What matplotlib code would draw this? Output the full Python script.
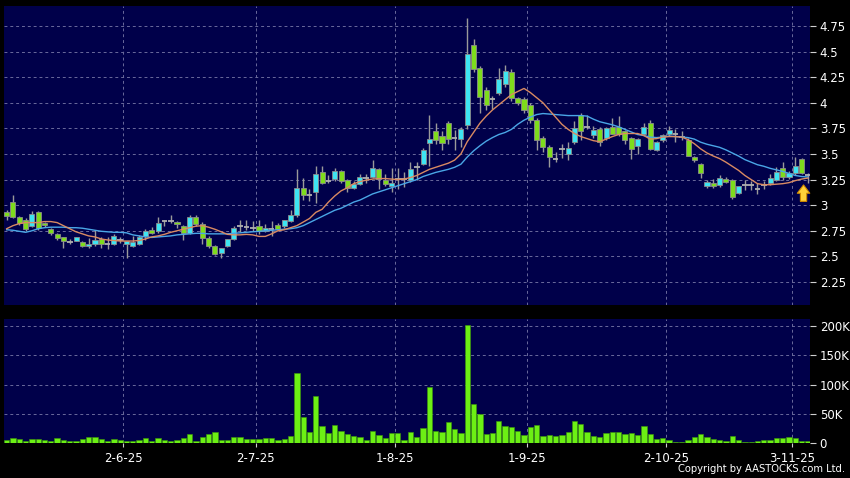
import matplotlib

matplotlib.use("Agg")
import matplotlib.pyplot as plt
from matplotlib.ticker import FuncFormatter

# daily OHLC, one entry per trading day (6 May 2025 .. 5 Nov 2025)
OPENS = [
    2.93, 3.03, 2.88, 2.86, 2.80, 2.93, 2.83, 2.77, 2.72, 2.69,
    2.64, 2.65, 2.64, 2.60, 2.62, 2.67, 2.62, 2.62, 2.66, 2.62,
    2.60, 2.62, 2.70, 2.76, 2.75, 2.845, 2.85, 2.84, 2.80, 2.73,
    2.88, 2.82, 2.68, 2.60, 2.53, 2.60, 2.67, 2.80, 2.79, 2.78,
    2.80, 2.75, 2.77, 2.81, 2.80, 2.85, 2.90, 3.17, 3.10, 3.13,
    3.32, 3.24, 3.26, 3.33, 3.25, 3.17, 3.21, 3.27, 3.28, 3.35,
    3.25, 3.19, 3.26, 3.26, 3.25, 3.37, 3.40, 3.61, 3.72, 3.68,
    3.80, 3.66, 3.65, 3.78, 4.56, 4.34, 4.12, 4.04, 4.10, 4.18,
    4.30, 4.05, 4.04, 3.98, 3.83, 3.66, 3.57, 3.45, 3.55, 3.50,
    3.62, 3.88, 3.76, 3.69, 3.74, 3.66, 3.76, 3.76, 3.72, 3.66,
    3.58, 3.70, 3.80, 3.54, 3.64, 3.70, 3.70, 3.67, 3.64, 3.47,
    3.40, 3.19, 3.22, 3.20, 3.26, 3.25, 3.12, 3.20, 3.20, 3.16,
    3.20, 3.22, 3.25, 3.36, 3.28, 3.31, 3.45, 3.29,
]
HIGHS = [
    2.95, 3.10, 2.89, 2.87, 2.94, 2.94, 2.84, 2.78, 2.73, 2.69,
    2.67, 2.69, 2.65, 2.68, 2.76, 2.69, 2.69, 2.72, 2.69, 2.65,
    2.70, 2.71, 2.77, 2.79, 2.88, 2.86, 2.90, 2.85, 2.81, 2.90,
    2.90, 2.84, 2.70, 2.61, 2.58, 2.67, 2.80, 2.86, 2.86, 2.85,
    2.86, 2.82, 2.85, 2.83, 2.86, 2.95, 3.35, 3.27, 3.16, 3.38,
    3.38, 3.29, 3.36, 3.34, 3.26, 3.24, 3.30, 3.30, 3.44, 3.36,
    3.30, 3.36, 3.36, 3.32, 3.42, 3.42, 3.56, 3.88, 3.80, 3.72,
    3.82, 3.73, 3.76, 4.83, 4.62, 4.36, 4.15, 4.07, 4.34, 4.37,
    4.33, 4.06, 4.06, 4.00, 3.85, 3.68, 3.59, 3.52, 3.60, 3.62,
    3.82, 3.90, 3.88, 3.77, 3.76, 3.76, 3.85, 3.87, 3.73, 3.67,
    3.66, 3.80, 3.83, 3.63, 3.70, 3.77, 3.74, 3.72, 3.66, 3.48,
    3.41, 3.25, 3.26, 3.29, 3.28, 3.26, 3.19, 3.25, 3.24, 3.22,
    3.24, 3.30, 3.37, 3.42, 3.33, 3.47, 3.46, 3.31,
]
LOWS = [
    2.86, 2.87, 2.81, 2.75, 2.79, 2.76, 2.79, 2.71, 2.66, 2.58,
    2.62, 2.65, 2.59, 2.58, 2.60, 2.58, 2.57, 2.61, 2.63, 2.48,
    2.59, 2.61, 2.66, 2.72, 2.73, 2.80, 2.83, 2.78, 2.66, 2.72,
    2.80, 2.62, 2.58, 2.51, 2.48, 2.59, 2.66, 2.74, 2.76, 2.75,
    2.72, 2.74, 2.70, 2.76, 2.78, 2.84, 2.88, 3.05, 3.04, 3.02,
    3.21, 3.22, 3.24, 3.22, 3.13, 3.16, 3.20, 3.22, 3.27, 3.16,
    3.19, 3.13, 3.16, 3.18, 3.23, 3.25, 3.39, 3.38, 3.60, 3.54,
    3.60, 3.54, 3.57, 3.74, 4.30, 3.90, 3.93, 3.94, 4.08, 4.15,
    4.02, 3.98, 3.90, 3.80, 3.54, 3.52, 3.37, 3.42, 3.46, 3.44,
    3.60, 3.64, 3.74, 3.66, 3.58, 3.64, 3.70, 3.68, 3.60, 3.45,
    3.50, 3.69, 3.54, 3.53, 3.62, 3.68, 3.62, 3.64, 3.48, 3.42,
    3.27, 3.17, 3.17, 3.18, 3.22, 3.06, 3.11, 3.15, 3.15, 3.11,
    3.16, 3.20, 3.24, 3.25, 3.26, 3.29, 3.30, 3.22,
]
CLOSES = [
    2.89, 2.88, 2.83, 2.77, 2.91, 2.78, 2.81, 2.73, 2.68, 2.65,
    2.64, 2.69, 2.60, 2.62, 2.66, 2.62, 2.62, 2.70, 2.66, 2.65,
    2.64, 2.69, 2.75, 2.73, 2.83, 2.845, 2.85, 2.82, 2.73, 2.88,
    2.82, 2.68, 2.60, 2.52, 2.58, 2.67, 2.78, 2.80, 2.79, 2.78,
    2.75, 2.78, 2.77, 2.77, 2.86, 2.90, 3.17, 3.10, 3.10, 3.30,
    3.22, 3.24, 3.33, 3.24, 3.17, 3.21, 3.28, 3.27, 3.36, 3.26,
    3.21, 3.22, 3.26, 3.26, 3.35, 3.37, 3.54, 3.65, 3.64, 3.61,
    3.65, 3.66, 3.74, 4.48, 4.33, 4.06, 3.98, 4.04, 4.23, 4.31,
    4.05, 4.00, 3.93, 3.83, 3.64, 3.57, 3.47, 3.45, 3.55, 3.56,
    3.75, 3.72, 3.76, 3.73, 3.62, 3.75, 3.70, 3.70, 3.64, 3.55,
    3.65, 3.76, 3.55, 3.62, 3.69, 3.73, 3.70, 3.67, 3.48, 3.44,
    3.31, 3.23, 3.19, 3.27, 3.23, 3.08, 3.19, 3.20, 3.20, 3.16,
    3.20, 3.27, 3.32, 3.28, 3.31, 3.38, 3.31, 3.29,
]
# daily volume, thousands of shares
VOLUMES_K = [
    5.7, 9, 7.4, 4, 7.4, 7.4, 5, 4, 9, 5.7,
    4.5, 4.5, 7.4, 11.4, 10.2, 8, 4.5, 7.4, 5, 4,
    4, 5.7, 9, 3.4, 9, 5.7, 4, 6.2, 9, 16,
    4, 10.8, 16, 18.7, 5.7, 5.7, 10.2, 10.2, 6.8, 6.8,
    6.8, 8.5, 8.5, 6.2, 8, 13, 119, 44, 20, 81,
    30, 17.6, 31, 21, 15.3, 13, 10.8, 6.2, 20.4, 14.8,
    9.7, 17.6, 18, 6.2, 19.3, 11.4, 25.6, 96.6, 21.6, 18.7,
    37, 23.9, 17, 201.6, 67, 49.4, 16, 17, 38, 29.5,
    28.4, 20.4, 13.6, 27.8, 31, 13, 14.2, 12.5, 13.6, 18.7,
    37.5, 32.4, 19.3, 12.5, 10.8, 17.6, 19.3, 20, 16, 17.6,
    14.2, 29, 15.3, 8, 8.5, 5, 2.3, 2.3, 6.2, 11.4,
    16, 10.8, 8, 5, 4, 12.5, 5.7, 2.8, 2.8, 3.4,
    6.2, 5, 9.7, 9, 10.2, 9.7, 3.4, 3.4,
]
# moving averages as drawn on the chart
MA10 = [
    2.77, 2.80, 2.82, 2.83, 2.83, 2.83, 2.84, 2.84, 2.83, 2.80,
    2.77, 2.74, 2.72, 2.70, 2.69, 2.67, 2.66, 2.655, 2.65, 2.65,
    2.65, 2.655, 2.67, 2.69, 2.70, 2.715, 2.735, 2.75, 2.765, 2.78,
    2.795, 2.80, 2.785, 2.765, 2.74, 2.715, 2.71, 2.71, 2.715, 2.71,
    2.695, 2.695, 2.72, 2.75, 2.76, 2.78, 2.80, 2.835, 2.87, 2.93,
    2.96, 3.03, 3.09, 3.14, 3.17, 3.21, 3.23, 3.245, 3.255, 3.26,
    3.26, 3.255, 3.25, 3.255, 3.27, 3.29, 3.32, 3.35, 3.37, 3.39,
    3.41, 3.44, 3.50, 3.62, 3.71, 3.80, 3.87, 3.93, 3.98, 4.03,
    4.08, 4.11, 4.14, 4.10, 4.05, 4.00, 3.93, 3.86, 3.79, 3.74,
    3.70, 3.67, 3.65, 3.63, 3.62, 3.645, 3.67, 3.69, 3.70, 3.70,
    3.70, 3.68, 3.645, 3.65, 3.665, 3.67, 3.67, 3.665, 3.64, 3.60,
    3.55, 3.51, 3.48, 3.455, 3.42, 3.38, 3.34, 3.29, 3.25, 3.21,
    3.20, 3.20, 3.205, 3.21, 3.22, 3.24, 3.255, 3.265,
]
MA20 = [
    2.76, 2.755, 2.745, 2.735, 2.75, 2.77, 2.78, 2.785, 2.785, 2.785,
    2.78, 2.78, 2.775, 2.765, 2.755, 2.745, 2.74, 2.735, 2.735, 2.73,
    2.71, 2.70, 2.69, 2.685, 2.69, 2.695, 2.70, 2.71, 2.715, 2.72,
    2.725, 2.725, 2.72, 2.72, 2.72, 2.72, 2.725, 2.73, 2.735, 2.74,
    2.745, 2.75, 2.755, 2.76, 2.765, 2.77, 2.78, 2.80, 2.83, 2.86,
    2.89, 2.92, 2.95, 2.97, 3.00, 3.03, 3.05, 3.08, 3.11, 3.13,
    3.15, 3.17, 3.19, 3.21, 3.23, 3.25, 3.28, 3.30, 3.32, 3.335,
    3.35, 3.37, 3.40, 3.47, 3.53, 3.58, 3.625, 3.66, 3.69, 3.71,
    3.74, 3.79, 3.83, 3.86, 3.885, 3.895, 3.89, 3.885, 3.88, 3.875,
    3.875, 3.875, 3.87, 3.84, 3.815, 3.80, 3.785, 3.765, 3.74, 3.715,
    3.69, 3.68, 3.665, 3.66, 3.665, 3.675, 3.67, 3.665, 3.66, 3.645,
    3.615, 3.595, 3.58, 3.565, 3.54, 3.51, 3.48, 3.445, 3.42, 3.395,
    3.38, 3.36, 3.345, 3.33, 3.31, 3.29, 3.28, 3.275,
]
# month-start trading days (index into the lists above) and their labels
TICK_DAYS = [19, 40, 62, 83, 105, 125]
TICK_LABELS = ["2-6-25", "2-7-25", "1-8-25", "1-9-25", "2-10-25", "3-11-25"]
PRICE_TICKS = [2.25, 2.5, 2.75, 3.0, 3.25, 3.5, 3.75, 4.0, 4.25, 4.5, 4.75]
VOLUME_TICKS_K = [0, 50, 100, 150, 200]

BG = "#000000"
PANEL = "#00004a"
GRID = "#6a6a9c"
UP = "#3ee4f2"
DOWN = "#7edc1c"
WICK = "#9a9a9a"
VOL = "#6cf014"


def style_panel(ax):
    ax.set_facecolor(PANEL)
    for side in ax.spines.values():
        side.set_visible(False)
    ax.grid(True, color=GRID, linestyle=(0, (3, 3)), linewidth=0.7)
    ax.set_axisbelow(True)
    ax.yaxis.tick_right()
    ax.tick_params(axis="y", colors="#cfcfcf", labelcolor="white", labelsize=8.5,
                   length=4, width=0.8, pad=3)
    ax.set_xticks([d - 0.5 for d in TICK_DAYS])
    ax.set_xlim(-0.42, 127.32)


def main():
    x = list(range(len(CLOSES)))
    fig = plt.figure(figsize=(8.5, 4.78), dpi=100, facecolor=BG)
    ax = fig.add_axes([0.0047, 0.3619, 0.9482, 0.6255])
    axv = fig.add_axes([0.0047, 0.0726, 0.9482, 0.2594])

    style_panel(ax)
    ax.set_ylim(2.025, 4.945)
    ax.set_yticks(PRICE_TICKS)
    ax.yaxis.set_major_formatter(FuncFormatter(lambda v, p: f"{v:g}"))
    ax.tick_params(axis="x", length=0, labelbottom=False)

    # wicks
    ax.vlines(x, LOWS, HIGHS, color=WICK, linewidth=1, zorder=2)
    # bodies
    for i in x:
        o, c = OPENS[i], CLOSES[i]
        if c == o:
            ax.hlines(c, i - 0.45, i + 0.45, color="#b0b0b0", linewidth=1.3, zorder=3)
        else:
            ax.bar(i, c - o, bottom=o, width=0.8, color=UP if c > o else DOWN,
                   edgecolor="#8c8c8c", linewidth=0.6, zorder=3)

    ax.plot(x, MA20, color="#4aa6e6", linewidth=1.0, zorder=4)
    ax.plot(x, MA10, color="#d98a62", linewidth=1.0, zorder=4)

    # yellow marker arrow under the latest candles
    ax.annotate("", xy=(126.3, 3.225), xytext=(126.3, 3.01),
                arrowprops=dict(arrowstyle="simple,head_length=0.6,head_width=0.9,tail_width=0.45",
                                facecolor="#ffd23a", edgecolor="#d08a00", linewidth=0.8),
                zorder=5)

    style_panel(axv)
    axv.bar(x, VOLUMES_K, width=0.84, color=VOL, edgecolor="#3d9a08", linewidth=0.4, zorder=3)
    axv.set_ylim(0, 211)
    axv.set_yticks(VOLUME_TICKS_K)
    axv.yaxis.set_major_formatter(FuncFormatter(lambda v, p: "0" if v == 0 else f"{v:g}K"))
    axv.set_xticklabels(TICK_LABELS)
    axv.tick_params(axis="x", colors="#cfcfcf", labelcolor="white", labelsize=8.5,
                    length=3, width=0.8, pad=3)

    fig.text(0.994, 0.008, "Copyright by AASTOCKS.com Ltd.", color="white",
             fontsize=7.2, ha="right", va="bottom")

    fig.savefig("out.png", dpi=100, facecolor=BG)
    plt.close(fig)


if __name__ == "__main__":
    main()
